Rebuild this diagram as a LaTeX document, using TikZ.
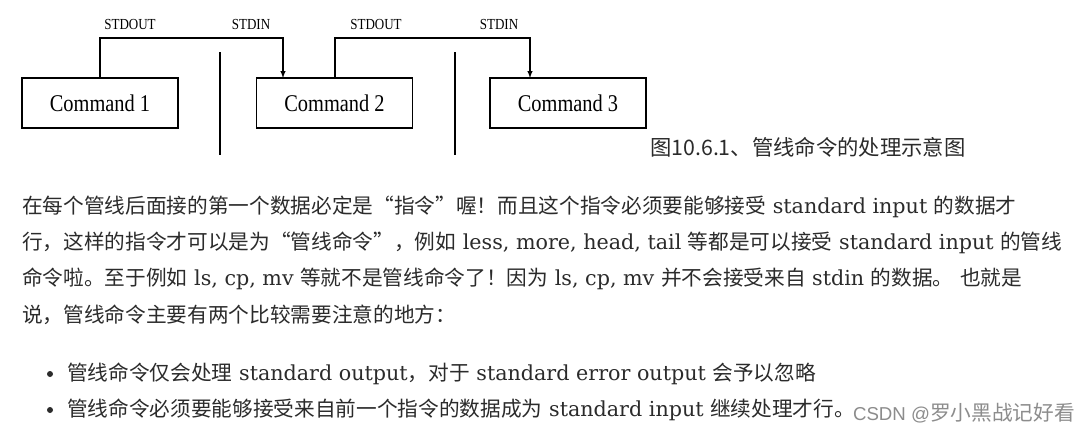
\documentclass[tikz,border=0pt]{standalone}
\usepackage{fontspec}
\setmainfont{DejaVu Serif}
\setsansfont{Liberation Sans}
\newfontfamily\diag{Liberation Serif}
\newfontfamily\cjk{Noto Sans CJK SC}
\newcommand\zh[1]{{\cjk\fontsize{15.5}{16}\selectfont #1}}
\usetikzlibrary{positioning}
\definecolor{txt}{HTML}{2b2b2b}
\begin{document}
\begin{tikzpicture}[x=0.75pt,y=-0.75pt,
				cmd/.style={draw,line width=1pt,minimum width=156*0.75pt,minimum height=50*0.75pt,font=\diag\fontsize{18}{18}\selectfont\addfontfeatures{FakeStretch=0.85}},
				lbl/.style={font=\diag\fontsize{11.5}{12}\selectfont\addfontfeatures{FakeStretch=0.85}},
				para/.style={anchor=west,inner sep=0pt,text=txt,font=\fontsize{15.5}{16}\selectfont},
				pipe/.style={line width=0.8pt}]
				\useasboundingbox[fill=white] (0,0) rectangle (1090,436);
				\node[cmd] (c1) at (100,103) {Command 1};
				\node[cmd] (c2) at (334.5,103) {Command 2};
				\node[cmd] (c3) at (568,103) {Command 3};
				\draw[pipe] (220,52) -- (220,155);
				\draw[pipe] (455,52) -- (455,155);
				\coordinate (o1) at (100,38);
				\coordinate (o2) at (335,38);
				\draw[pipe,-latex] (o1 |- c1.north) -- (o1) -| (283,78);
				\draw[pipe,-latex] (o2 |- c2.north) -- (o2) -| (530,78);
				\node[lbl] (so1) at (130,24) {STDOUT};
				\node[lbl] (si1) at (251,24) {STDIN};
				\node[lbl] (so2) at (376,24) {STDOUT};
				\node[lbl] (si2) at (499,24) {STDIN};
				\node[para,font=\cjk\fontsize{16}{16}\selectfont] (cap) at (650,147) {图10.6.1、管线命令的处理示意图};
				% paragraph
				\node[para] (l1) at (22,207) {\zh{在每个管线后面接的第一个数据必定是“指令”喔！而且这个指令必须要能够接受} standard input \zh{的数据才}};
				\node[para] (l2) at (22,243) {\zh{行，这样的指令才可以是为“管线命令”，例如} less, more, head, tail \zh{等都是可以接受} standard input \zh{的管线}};
				\node[para] (l3) at (22,279) {\zh{命令啦。至于例如} ls, cp, mv \zh{等就不是管线命令了！因为} ls, cp, mv \zh{并不会接受来自} stdin \zh{的数据。} \zh{也就是}};
				\node[para] (l4) at (22,315) {\zh{说，管线命令主要有两个比较需要注意的地方：}};
				\fill[txt] (50,374) circle (3) (50,410) circle (3);
				\node[para] (b1) at (67,374) {\zh{管线命令仅会处理} standard output\zh{，对于} standard error output \zh{会予以忽略}};
				\node[para] (b2) at (67,410) {\zh{管线命令必须要能够接受来自前一个指令的数据成为} standard input \zh{继续处理才行。}};
				\node[anchor=east,inner sep=0pt,text=black!45,font=\sffamily\fontsize{14}{14}\selectfont] (wm) at (1075,413) {CSDN @\zh{罗小黑战记好看}};
			\end{tikzpicture}
\end{document}
